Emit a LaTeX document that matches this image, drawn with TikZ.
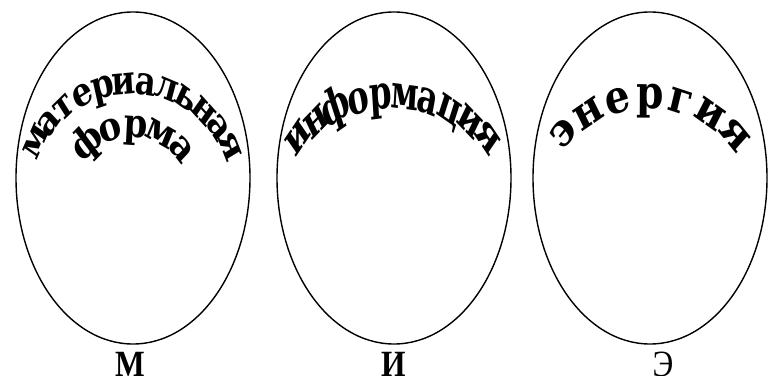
\documentclass[tikz,border=0pt]{standalone}
\usepackage{fontspec}
\setmainfont{DejaVu Serif}
\newfontfamily\lblfont{Liberation Serif}
\usetikzlibrary{shapes.geometric}
\tikzset{
  oval/.style={draw, ellipse, line width=1.4pt, minimum width=234pt, minimum height=332pt, inner sep=0pt},
  arcA/.style={inner sep=0pt, anchor=base, font=\fontsize{40}{40}\selectfont\bfseries, xscale=0.8},
  arcF/.style={inner sep=0pt, anchor=base, font=\fontsize{40}{40}\selectfont\bfseries, xscale=0.85},
  arcB/.style={inner sep=0pt, anchor=base, font=\fontsize{47}{47}\selectfont\bfseries, xscale=0.68},
  arcC/.style={inner sep=0pt, anchor=base, font=\fontsize{46}{46}\selectfont\bfseries, xscale=0.85},
  lbl/.style={inner sep=0pt, anchor=base, xscale=0.85, font=\lblfont\fontsize{37}{37}\selectfont\bfseries},
  lblthin/.style={inner sep=0pt, anchor=base, xscale=0.85, font=\lblfont\fontsize{37}{37}\selectfont}
}
\begin{document}
\begin{tikzpicture}[x=1pt,y=1pt]
\useasboundingbox (0,0) rectangle (768,375);
\node[oval] (e1) at (133,197) {};
\node[oval] (e2) at (394,197) {};
\node[oval] (e3) at (650,197) {};
% материальная
\foreach \ch [count=\i from 0] in {м,а,т,е,р,и,а,л,ь,н,а,я} {
  \pgfmathsetmacro\ang{151-\i*125/11}
  \node[arcA, rotate=\ang-90] (ma\i) at ([shift={(132,180)}]\ang:101) {\ch};
}
% форма
\foreach \ch [count=\i from 0] in {ф,о,р,м,а} {
  \pgfmathsetmacro\ang{131-\i*89/4}
  \node[arcF, rotate=\ang-90] (fo\i) at ([shift={(132,180)}]\ang:58) {\ch};
}
% информация
\foreach \ch [count=\i from 0] in {и,н,ф,о,р,м,а,ц,и,я} {
  \pgfmathsetmacro\ang{135.4-\i*90.8/9}
  \node[arcB, rotate=\ang-90] (in\i) at ([shift={(393,141)}]\ang:125) {\ch};
}
% энергия
\foreach \ch [count=\i from 0] in {э,н,е,р,г,и,я} {
  \pgfmathsetmacro\ang{135.7-\i*92.1/6}
  \node[arcC, rotate=\ang-90] (en\i) at ([shift={(649,157)}]\ang:109) {\ch};
}
\node[lbl] (lm) at (130,-1) {М};
\node[lbl] (li) at (394,-1) {И};
\node[lblthin] (le) at (663,-1) {Э};
\end{tikzpicture}
\end{document}
